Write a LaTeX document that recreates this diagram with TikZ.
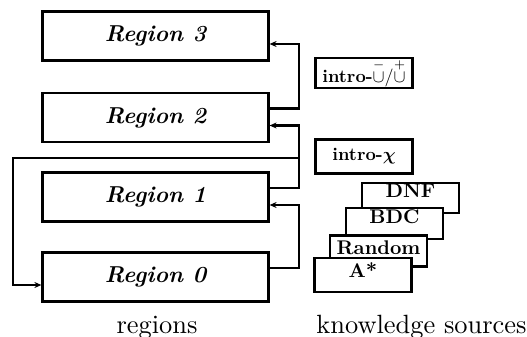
\documentclass[tikz,border=0pt]{standalone}
\usepackage{amsmath}
\usetikzlibrary{arrows.meta,calc}
\newcommand\sbx[2]{\scalebox{#1}{\fontsize{10}{12}\selectfont #2}}
\begin{document}
\begin{tikzpicture}[x=1pt,y=-1pt,
  lw/.style={line width=2.2pt},
  region/.style={lw,draw,minimum width=226pt,minimum height=49pt,inner sep=0pt,
    font=\fontsize{23}{25}\selectfont\bfseries\itshape},
  ksbox/.style={lw,draw,fill=white,inner sep=0pt,minimum width=97pt},
  conn/.style={lw,-{Stealth[length=7pt,width=6pt]}},
  captext/.style={anchor=base,inner sep=0pt}]
\useasboundingbox (0,0) rectangle (527,337);
% regions
\node[region] (r3) at (155.5,36) {Region 3};
\node[region] (r2) at (155.5,117.5) {Region 2};
\node[region] (r1) at (155.5,197) {Region 1};
\node[region] (r0) at (155.5,277) {Region 0};
\coordinate (bus) at (299,0);
\coordinate (j) at (299,158);
\coordinate (lft) at (13,0);
\draw[conn] ([yshift=9pt]r2.east) -- ([yshift=9pt]r2.east -| bus) |- ([yshift=-8pt]r3.east);
\draw[conn] ([yshift=9pt]r1.east) -- ([yshift=9pt]r1.east -| bus) |- ([yshift=-8pt]r2.east);
\draw[conn] ([yshift=9pt]r0.east) -- ([yshift=9pt]r0.east -| bus) |- ([yshift=-8pt]r1.east);
\draw[conn] (j) -- (j -| lft) |- ([yshift=-8pt]r0.west);
% knowledge sources
\node[ksbox,minimum height=30pt] (iu) at (364,73) {\sbx{1.8}{\bfseries intro-$\overset{-}{\cup}/\overset{+}{\cup}$}};
\node[ksbox,minimum height=34pt] (ix) at (364,156.5) {\sbx{1.8}{\bfseries intro-$\boldsymbol{\chi}$}};
\node[ksbox,minimum height=30pt] (dnf) at (410.5,198) {\raisebox{1pt}[0pt][0pt]{\sbx{1.98}{\bfseries DNF}}};
\node[ksbox,minimum height=31pt] (bdc) at (394.5,223.5) {\raisebox{0pt}[0pt][0pt]{\sbx{1.98}{\bfseries BDC}}};
\node[ksbox,minimum height=31pt] (rnd) at (378.5,251) {\raisebox{-3.5pt}[0pt][0pt]{\sbx{1.98}{\bfseries Random}}};
\node[ksbox,minimum height=34pt] (ast) at (363,275) {\raisebox{-2pt}[0pt][0pt]{\sbx{1.98}{\bfseries A*}}};
% captions
\node[captext] (c1) at (157,333) {\sbx{2.64}{regions}};
\node[captext] (c2) at (421.5,333) {\sbx{2.64}{knowledge sources}};
\end{tikzpicture}
\end{document}
